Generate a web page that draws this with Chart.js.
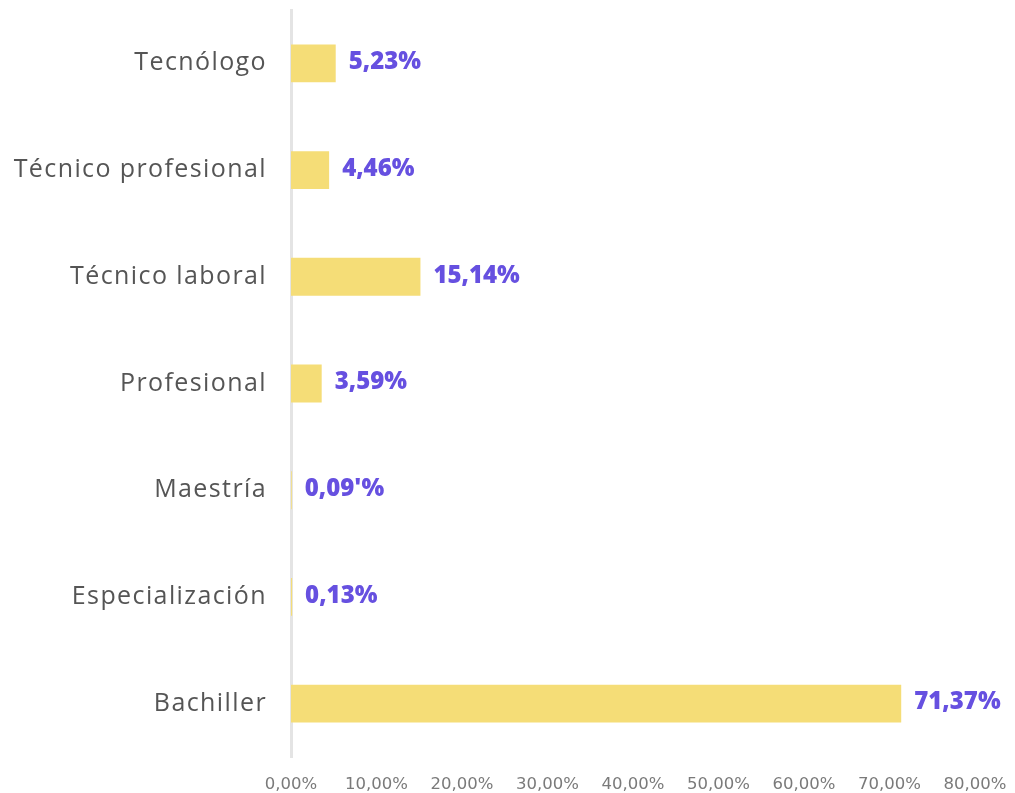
<!DOCTYPE html>
<html>
<head>
<meta charset="utf-8">
<script src="https://cdn.jsdelivr.net/npm/chart.js@4"></script>
<style>
html,body{margin:0;padding:0;background:#fff;}
#wrap{width:1015px;height:793px;}
</style>
</head>
<body>
<div id="wrap"><canvas id="c" width="1015" height="793"></canvas></div>
<script>
const categories = ["Tecnólogo", "Técnico profesional", "Técnico laboral", "Profesional", "Maestría", "Especialización", "Bachiller"];
const values = [5.23, 4.46, 15.14, 3.59, 0.09, 0.13, 71.37];
const valueLabels = ["5,23%", "4,46%", "15,14%", "3,59%", "0,09'%", "0,13%", "71,37%"];
const xTicks = [0, 10, 20, 30, 40, 50, 60, 70, 80];

const labelPlugin = {
  id: 'valueLabels',
  afterDatasetsDraw(chart) {
    const ctx = chart.ctx;
    const meta = chart.getDatasetMeta(0);
    ctx.save();
    ctx.font = '800 24px "Open Sans"';
    ctx.fillStyle = '#6650e0';
    ctx.textAlign = 'left';
    ctx.textBaseline = 'middle';
    meta.data.forEach((bar, i) => {
      ctx.fillText(valueLabels[i], bar.x + 13, bar.y - 1);
    });
    ctx.restore();
  }
};

function spacedLabels(scale) {
  if (scale._spaced) return;
  const orig = scale.drawLabels.bind(scale);
  scale.drawLabels = function (area) {
    const c = this.ctx;
    const prev = c.letterSpacing;
    c.letterSpacing = '1.4px';
    orig(area);
    c.letterSpacing = prev;
  };
  scale._spaced = true;
}

new Chart(document.getElementById('c'), {
  type: 'bar',
  data: {
    labels: categories,
    datasets: [{
      data: values,
      backgroundColor: '#f5dd77',
      borderWidth: 0,
      barPercentage: 0.355,
      categoryPercentage: 1
    }]
  },
  options: {
    indexAxis: 'y',
    responsive: false,
    animation: false,
    layout: { padding: { top: 10, right: 40, left: 0, bottom: 0 } },
    plugins: { legend: { display: false }, tooltip: { enabled: false } },
    scales: {
      x: {
        min: 0, max: 80,
        afterBuildTicks(scale) { scale.ticks = xTicks.map(v => ({ value: v })); },
        grid: { display: false, drawTicks: false },
        border: { display: false },
        ticks: {
          color: '#7a7a7a',
          font: { family: 'DejaVu Sans', size: 16.5 },
          padding: 18,
          maxRotation: 0,
          autoSkip: false,
          callback: v => v.toFixed(2).replace('.', ',') + '%'
        },
        afterFit(scale) { scale.height = 36; scale.paddingLeft = 0; scale.paddingRight = 0; }
      },
      y: {
        grid: { display: false, drawTicks: false },
        border: { display: true, color: '#e4e4e4', width: 3 },
        ticks: {
          color: '#555',
          font: { family: 'Open Sans', size: 25 },
          padding: 24
        },
        afterFit(scale) {
          scale.width = 291; scale.paddingTop = 0; scale.paddingBottom = 0;
          spacedLabels(scale);
        }
      }
    }
  },
  plugins: [labelPlugin]
});
</script>
</body>
</html>
